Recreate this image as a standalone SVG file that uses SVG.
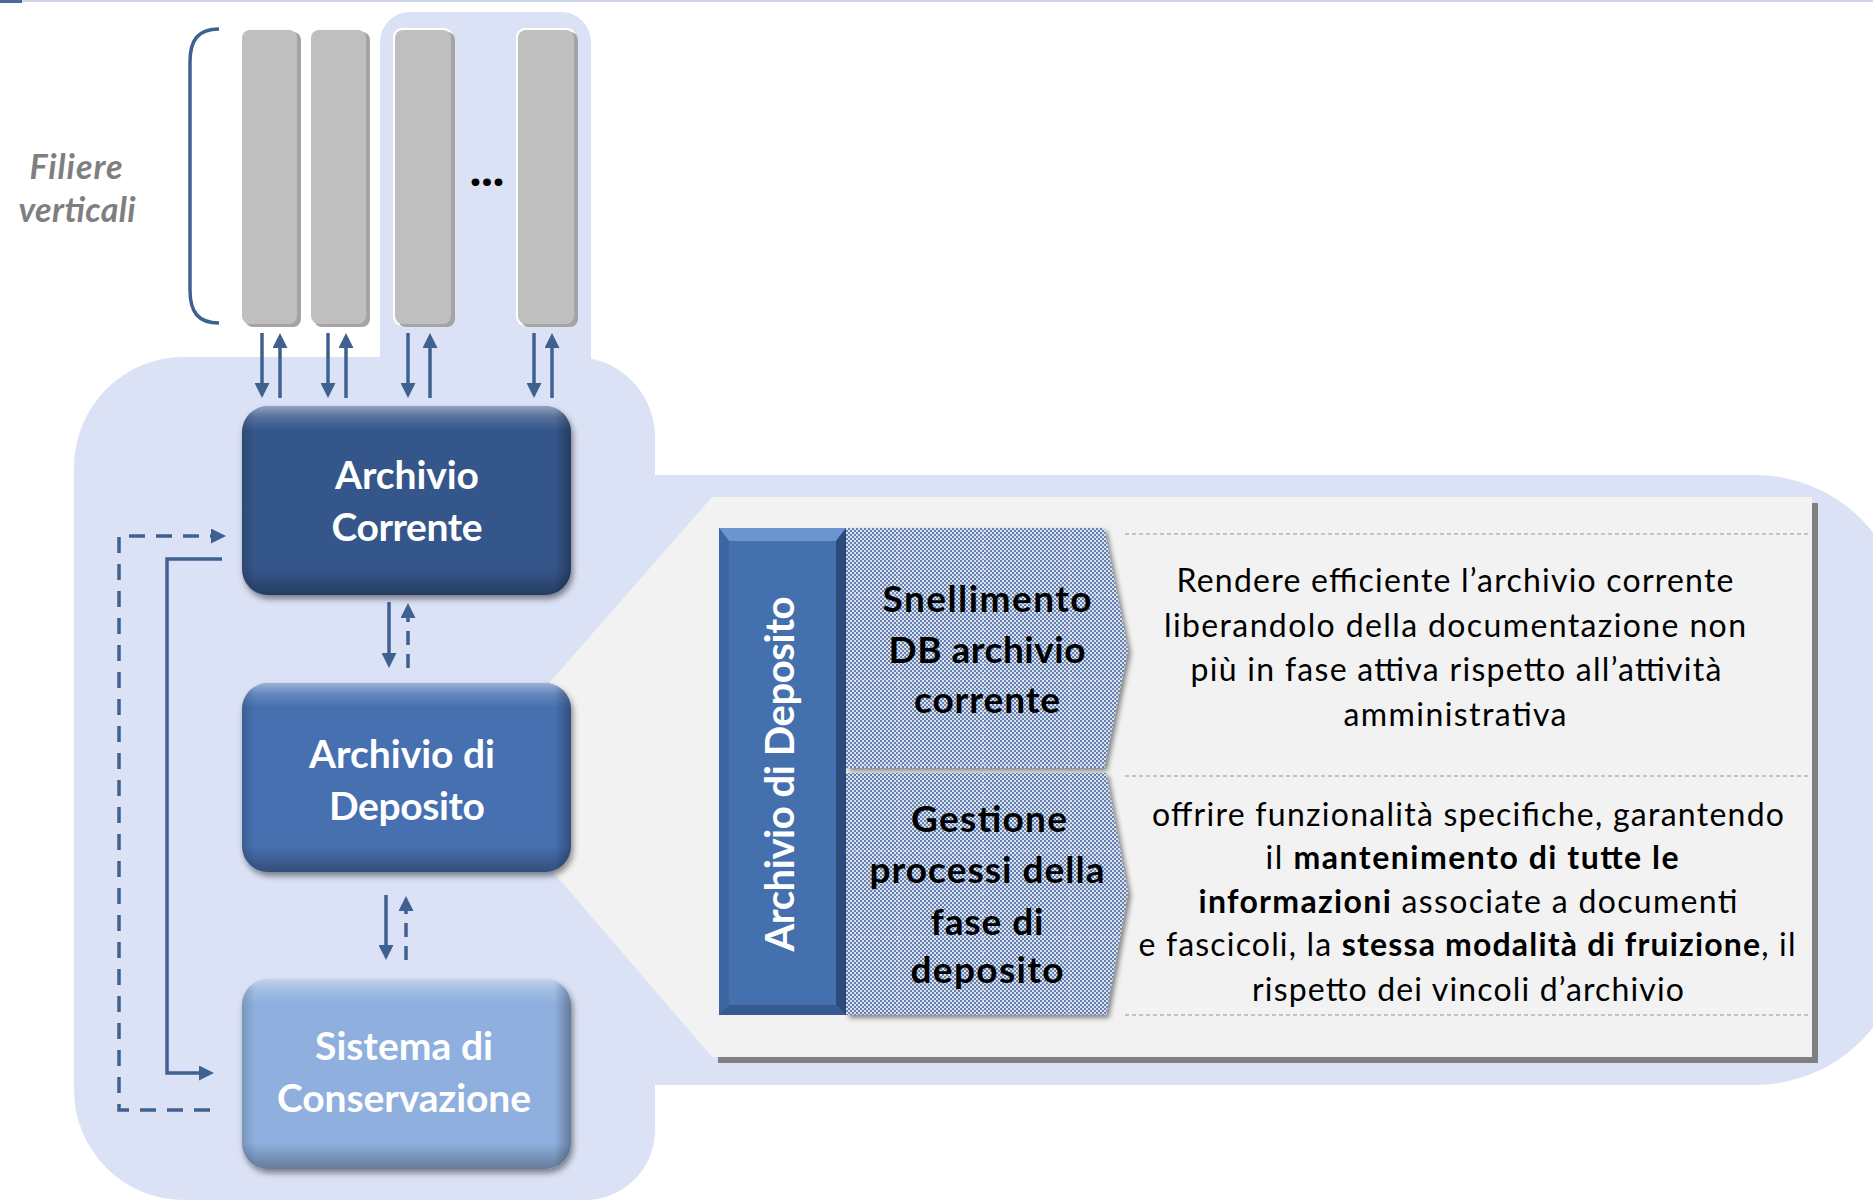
<svg xmlns="http://www.w3.org/2000/svg" width="1873" height="1203" viewBox="0 0 1873 1203">
<defs>
<style>
.bg{fill:#dce2f6}
.bar{fill:#bfbfbf}
.bar-edge{fill:#a4a4a4}
.bar-halo{fill:#ffffff}
.node-lbl{font-family:Lato,"Liberation Sans",sans-serif;font-weight:700;fill:#fff;text-anchor:middle;font-size:39px}
.chv{font-family:Lato,"Liberation Sans",sans-serif;font-weight:700;fill:#000;text-anchor:middle;font-size:37px}
.desc{font-family:Lato,"Liberation Sans",sans-serif;fill:#000;text-anchor:middle;font-size:32px}
.b{font-weight:700}
.ln{stroke:#3f6190;stroke-width:3.5;fill:none}
.dash{stroke-dasharray:16 11}
.sdash{stroke-dasharray:14 9}
.sep{stroke:#b3b3b3;stroke-width:1.3;stroke-dasharray:4 3;fill:none}
.grid{stroke:#ffffff;stroke-width:1.2;stroke-dasharray:1 2;opacity:0.6}
</style>
<marker id="ah" viewBox="0 0 10 10" refX="5" refY="5" markerWidth="15" markerHeight="15" markerUnits="userSpaceOnUse" orient="auto">
<path d="M0,0L10,5L0,10z" fill="#3f6190"/>
</marker>
<filter id="sh" x="-10%" y="-10%" width="125%" height="125%">
<feDropShadow dx="2" dy="4" stdDeviation="3" flood-color="#000" flood-opacity="0.45"/>
</filter>
<filter id="shc" x="-10%" y="-10%" width="125%" height="125%">
<feDropShadow dx="3" dy="3" stdDeviation="2.5" flood-color="#000" flood-opacity="0.45"/>
</filter>
<linearGradient id="bevV" x1="0" y1="0" x2="0" y2="1">
<stop offset="0" stop-color="#fff" stop-opacity="0.45"/>
<stop offset="0.06" stop-color="#fff" stop-opacity="0.15"/>
<stop offset="0.13" stop-color="#fff" stop-opacity="0"/>
<stop offset="0.86" stop-color="#000" stop-opacity="0"/>
<stop offset="1" stop-color="#000" stop-opacity="0.3"/>
</linearGradient>
<linearGradient id="bevH" x1="0" y1="0" x2="1" y2="0">
<stop offset="0" stop-color="#000" stop-opacity="0.15"/>
<stop offset="0.04" stop-color="#000" stop-opacity="0"/>
<stop offset="0.95" stop-color="#000" stop-opacity="0"/>
<stop offset="1" stop-color="#000" stop-opacity="0.3"/>
</linearGradient>
<pattern id="chk" width="4" height="4" patternUnits="userSpaceOnUse">
<rect width="4" height="4" fill="#dae1ee"/>
<rect width="2" height="2" fill="#6580ad"/>
<rect x="2" y="2" width="2" height="2" fill="#6580ad"/>
</pattern>
<clipPath id="chvClip">
<path d="M846 528H1104L1128 650L1104 768H846Z M846 773H1106L1128 893L1106 1015H846Z"/>
</clipPath>
</defs>

<!-- top frame line -->
<rect x="0" y="0" width="1873" height="2" fill="#cfd6ec"/>
<rect x="0" y="0" width="22" height="3" fill="#4a6a9a"/>

<!-- background panels -->
<g id="background">
<rect class="bg" x="380" y="12" width="211" height="420" rx="30"/>
<path class="bg" d="M74 467A110 110 0 0 1 184 357H575A80 80 0 0 1 655 437V1130A70 70 0 0 1 585 1200H184A110 110 0 0 1 74 1090Z"/>
<path class="bg" d="M600 475H1755A150 150 0 0 1 1905 625V935A150 150 0 0 1 1755 1085H600Z"/>
</g>

<!-- vertical pipelines -->
<g id="filiere">
<path class="ln" d="M219 29C198 29 190 40 190 62V290C190 312 198 323 219 323"/>
<text x="76" y="179" font-family="Lato,'Liberation Sans',sans-serif" font-weight="700" font-style="italic" font-size="34" fill="#7f7f7f" text-anchor="middle" textLength="93">Filiere</text>
<text x="77" y="222" font-family="Lato,'Liberation Sans',sans-serif" font-weight="700" font-style="italic" font-size="34" fill="#7f7f7f" text-anchor="middle" textLength="117">verticali</text>
<g id="bar1">
<rect class="bar-halo" x="240" y="28" width="59" height="298" rx="9"/>
<rect class="bar-edge" x="245" y="32" width="56" height="295" rx="8"/>
<rect class="bar" x="242" y="30" width="55" height="294" rx="8"/>
</g>
<g id="bar2">
<rect class="bar-halo" x="309" y="28" width="59" height="298" rx="9"/>
<rect class="bar-edge" x="314" y="32" width="56" height="295" rx="8"/>
<rect class="bar" x="311" y="30" width="55" height="294" rx="8"/>
</g>
<g id="bar3">
<rect class="bar-halo" x="393" y="28" width="60" height="298" rx="9"/>
<rect class="bar-edge" x="398" y="32" width="57" height="295" rx="8"/>
<rect class="bar" x="395" y="30" width="56" height="294" rx="8"/>
</g>
<g id="bar4">
<rect class="bar-halo" x="516" y="28" width="60" height="298" rx="9"/>
<rect class="bar-edge" x="521" y="32" width="57" height="295" rx="8"/>
<rect class="bar" x="518" y="30" width="56" height="294" rx="8"/>
</g>
<text x="487" y="186" font-family="Lato,'Liberation Sans',sans-serif" font-weight="900" font-size="48" fill="#000" text-anchor="middle">...</text>
</g>

<!-- detail callout for the deposit archive -->
<g id="detail">
<rect x="718" y="503" width="1100" height="560" fill="#808080"/>
<polygon points="550,682 712,497 1812,497 1812,1057 712,1057 554,873" fill="#f2f2f2"/>
<line class="sep" x1="1125" y1="534" x2="1810" y2="534"/>
<line class="sep" x1="1125" y1="776" x2="1810" y2="776"/>
<line class="sep" x1="1125" y1="1015" x2="1810" y2="1015"/>

<g id="bar-deposito">
<rect x="719" y="528" width="127" height="487" fill="#4570ae"/>
<polygon points="719,528 846,528 836,541 729,541" fill="#6c94cf"/>
<polygon points="846,528 846,1015 836,1005 836,541" fill="#2c4a7a"/>
<polygon points="719,528 729,541 729,1005 719,1015" fill="#3d65a1"/>
<polygon points="719,1015 846,1015 836,1005 729,1005" fill="#365a90"/>
<text transform="translate(794 774) rotate(-90)" font-family="Lato,'Liberation Sans',sans-serif" font-weight="700" font-size="40" fill="#fff" text-anchor="middle" textLength="355">Archivio di Deposito</text>
</g>

<g id="chevron-snellimento">
<path d="M846 528H1104L1128 650L1104 768H846Z" fill="url(#chk)" filter="url(#shc)"/>
</g>
<g id="chevron-gestione">
<path d="M846 773H1106L1128 893L1106 1015H846Z" fill="url(#chk)" filter="url(#shc)"/>
</g>
<g clip-path="url(#chvClip)">
<path class="grid" d="M898 528V1015M983 528V1015M1070 528V1015M846 595H1130M846 680H1130M846 765H1130M846 851H1130M846 937H1130"/>
</g>
<text class="chv" x="987" y="612" textLength="209">Snellimento</text>
<text class="chv" x="987" y="663" textLength="197">DB archivio</text>
<text class="chv" x="987" y="713" textLength="146">corrente</text>
<text class="chv" x="989" y="832" textLength="156">Gestione</text>
<text class="chv" x="987" y="883" textLength="235">processi della</text>
<text class="chv" x="987" y="935" textLength="113">fase di</text>
<text class="chv" x="987" y="983" textLength="153">deposito</text>

<g id="desc-snellimento">
<text class="desc" x="1455" y="592" textLength="557">Rendere efficiente l’archivio corrente</text>
<text class="desc" x="1455" y="637" textLength="582">liberandolo della documentazione non</text>
<text class="desc" x="1456" y="681" textLength="531">più in fase attiva rispetto all’attività</text>
<text class="desc" x="1455" y="726" textLength="223">amministrativa</text>
</g>
<g id="desc-gestione">
<text class="desc" x="1468" y="826" textLength="632">offrire funzionalità specifiche, garantendo</text>
<text class="desc" x="1472" y="869" textLength="413">il <tspan class="b">mantenimento di tutte le</tspan></text>
<text class="desc" x="1468" y="913" textLength="539"><tspan class="b">informazioni</tspan> associate a documenti</text>
<text class="desc" x="1467" y="956" textLength="657">e fascicoli, la <tspan class="b">stessa modalità di fruizione</tspan>, il</text>
<text class="desc" x="1468" y="1001" textLength="432">rispetto dei vincoli d’archivio</text>
</g>
</g>

<!-- archive nodes -->
<g id="archivio-corrente">
<rect x="242" y="406" width="329" height="189" rx="26" fill="#36578a" filter="url(#sh)"/>
<rect x="242" y="406" width="329" height="189" rx="26" fill="url(#bevV)"/>
<rect x="242" y="406" width="329" height="189" rx="26" fill="url(#bevH)"/>
<text class="node-lbl" x="407" y="489" textLength="144">Archivio</text>
<text class="node-lbl" x="407" y="541" textLength="151">Corrente</text>
</g>
<g id="archivio-deposito">
<rect x="242" y="683" width="329" height="189" rx="26" fill="#466fb0" filter="url(#sh)"/>
<rect x="242" y="683" width="329" height="189" rx="26" fill="url(#bevV)"/>
<rect x="242" y="683" width="329" height="189" rx="26" fill="url(#bevH)"/>
<text class="node-lbl" x="402" y="768" textLength="186">Archivio di</text>
<text class="node-lbl" x="407" y="820" textLength="156">Deposito</text>
</g>
<g id="sistema-conservazione">
<rect x="242" y="979" width="329" height="190" rx="26" fill="#8fb0de" filter="url(#sh)"/>
<rect x="242" y="979" width="329" height="190" rx="26" fill="url(#bevV)"/>
<rect x="242" y="979" width="329" height="190" rx="26" fill="url(#bevH)"/>
<text class="node-lbl" x="404" y="1060" textLength="178">Sistema di</text>
<text class="node-lbl" x="404" y="1112" textLength="254">Conservazione</text>
</g>

<!-- connectors -->
<g id="connectors">
<path class="ln" d="M262 333V390.5" marker-end="url(#ah)"/>
<path class="ln" d="M280 398V340.5" marker-end="url(#ah)"/>
<path class="ln" d="M328 333V390.5" marker-end="url(#ah)"/>
<path class="ln" d="M346 398V340.5" marker-end="url(#ah)"/>
<path class="ln" d="M408 333V390.5" marker-end="url(#ah)"/>
<path class="ln" d="M430 398V340.5" marker-end="url(#ah)"/>
<path class="ln" d="M534 333V390.5" marker-end="url(#ah)"/>
<path class="ln" d="M552 398V340.5" marker-end="url(#ah)"/>

<path class="ln" d="M389 602V660.5" marker-end="url(#ah)"/>
<path class="ln sdash" d="M408 668V610.5" marker-end="url(#ah)"/>
<path class="ln" d="M386 895V952.5" marker-end="url(#ah)"/>
<path class="ln sdash" d="M406 960V903.5" marker-end="url(#ah)"/>

<path class="ln" d="M222 559H167V1073H206.5" marker-end="url(#ah)"/>
<path class="ln dash" d="M210 1110H119V536H218.5" marker-end="url(#ah)"/>
</g>
</svg>
